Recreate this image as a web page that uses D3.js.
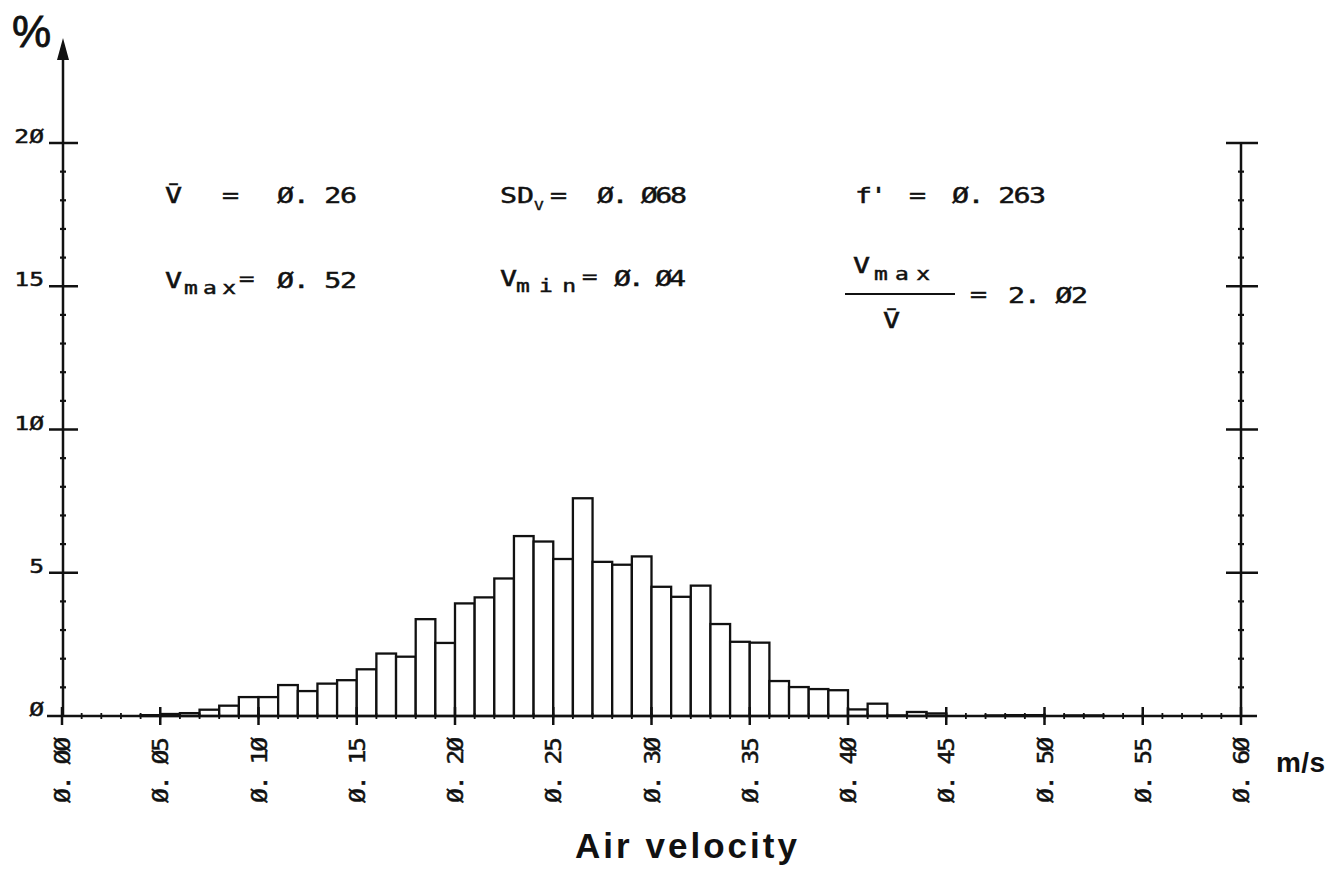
<!DOCTYPE html>
<html><head><meta charset="utf-8">
<script src="https://cdn.jsdelivr.net/npm/d3@7"></script>
<style>html,body{margin:0;padding:0;background:#fff;} svg{display:block;}</style>
</head><body>
<svg id="c" width="1334" height="875"></svg>
<script>
// ---------- data ----------
const binStart = [0.04,0.05,0.06,0.07,0.08,0.09,0.10,0.11,0.12,0.13,0.14,0.15,0.16,0.17,0.18,0.19,
  0.20,0.21,0.22,0.23,0.24,0.25,0.26,0.27,0.28,0.29,0.30,0.31,0.32,0.33,0.34,0.35,0.36,0.37,0.38,0.39,
  0.40,0.41,0.42,0.43,0.44,0.45,0.46,0.47,0.48,0.49,0.50,0.51,0.52];
const percent = [0.03,0.07,0.10,0.22,0.36,0.66,0.66,1.08,0.87,1.13,1.25,1.63,2.18,2.07,3.38,2.55,
  3.93,4.14,4.80,6.28,6.09,5.48,7.60,5.38,5.28,5.57,4.51,4.16,4.55,3.21,2.59,2.56,1.22,1.01,0.94,0.90,
  0.23,0.43,0.02,0.14,0.09,0.00,0.00,0.02,0.03,0.03,0.00,0.02,0.02];
const binWidth = 0.01;
const xTickValues = [0.00,0.05,0.10,0.15,0.20,0.25,0.30,0.35,0.40,0.45,0.50,0.55,0.60];
const yTickValues = [0,5,10,15,20];
const statNames = ["V̄","SD","f'","V","V","V"];
const statSubs  = ["","V","","max","min","max"];
const statValues = [0.26,0.068,0.263,0.52,0.04,2.02];
const xTitle = "Air velocity";
const xUnit = "m/s";
const yUnit = "%";

// ---------- drawing ----------
const svg = d3.select("#c");
const ink = "#111";
const mono = "'DejaVu Sans Mono', monospace";
const sans = "'Liberation Sans', Arial, sans-serif";
const x = d3.scaleLinear().domain([0,0.6]).range([62,1241]);
const y = d3.scaleLinear().domain([0,20]).range([716,143]);
const plot = (s)=> s.replace(/0/g,"Ø");
const fmtVal = v => plot(String(v)).replace(".", ". ");
const fmtX = v => plot(d3.format(".2f")(v)).replace(".", ". ");

// bars
svg.append("g").selectAll("rect")
  .data(binStart.map((b,i)=>({b, p:percent[i]})).filter(d=>d.p>0))
  .join("rect")
  .attr("x", d=>x(d.b))
  .attr("width", d=>x(d.b+binWidth)-x(d.b))
  .attr("y", d=>y(d.p))
  .attr("height", d=>y(0)-y(d.p))
  .attr("fill","#fff").attr("stroke",ink).attr("stroke-width",2.3);

const g = svg.append("g").attr("stroke",ink).attr("stroke-width",2.5).attr("fill","none");
const x0 = x(0), x1 = x(0.6), yb = y(0);

// x axis line
g.append("line").attr("x1",x0-15).attr("x2",x1+16).attr("y1",yb).attr("y2",yb);
// x major ticks
g.selectAll(".xM").data(xTickValues).join("line")
  .attr("x1",d=>x(d)).attr("x2",d=>x(d)).attr("y1",yb-9).attr("y2",yb+9);
// x minor ticks
g.selectAll(".xm").data(d3.range(0,61).map(i=>i/100)).join("line")
  .attr("x1",d=>x(d)).attr("x2",d=>x(d)).attr("y1",yb-3).attr("y2",yb+3).attr("stroke-width",1.8);

// left axis with arrow
g.append("line").attr("x1",x0+1).attr("x2",x0+1).attr("y1",yb).attr("y2",52);
svg.append("path").attr("d",`M${x0+1},38 L${x0-5},60 L${x0+7},60 Z`).attr("fill",ink);
// left major ticks
g.selectAll(".yL").data(yTickValues.filter(v=>v>0)).join("line")
  .attr("x1",x0-13).attr("x2",x0+16).attr("y1",d=>y(d)).attr("y2",d=>y(d));
// left minor ticks
g.selectAll(".yl").data(d3.range(1,20).filter(v=>v%5)).join("line")
  .attr("x1",x0-2).attr("x2",x0+4).attr("y1",d=>y(d)).attr("y2",d=>y(d)).attr("stroke-width",2.2);

// right axis
g.append("line").attr("x1",x1).attr("x2",x1).attr("y1",yb).attr("y2",y(20));
g.selectAll(".yR").data(yTickValues.filter(v=>v>0)).join("line")
  .attr("x1",x1-15).attr("x2",x1+17).attr("y1",d=>y(d)).attr("y2",d=>y(d));
g.selectAll(".yr").data(d3.range(1,20).filter(v=>v%5)).join("line")
  .attr("x1",x1-3).attr("x2",x1+3).attr("y1",d=>y(d)).attr("y2",d=>y(d)).attr("stroke-width",2.2);

// text helper (plotter-like lettering: monospace stretched horizontally)
function txt(s, px, py, size, len, opts={}) {
  const sx = opts.sx ?? 1.35;
  const t = svg.append("text")
    .attr("transform",`translate(${px},${py}) scale(${sx},1)`)
    .attr("font-family", opts.family || mono).attr("font-size",size)
    .attr("font-weight", opts.weight || "normal").attr("fill",ink)
    .attr("stroke", ink).attr("stroke-width", opts.sw ?? 0.45)
    .text(s);
  if (len) t.attr("textLength",len/sx).attr("lengthAdjust","spacing");
  if (opts.anchor) t.attr("text-anchor",opts.anchor);
  return t;
}

// x tick labels (rotated, read bottom to top)
xTickValues.forEach(v=>{
  svg.append("text")
    .attr("transform",`translate(${x(v)+8},803) rotate(-90) scale(1.2,1)`)
    .attr("font-family",mono).attr("font-size",20.5).attr("fill",ink)
    .attr("stroke",ink).attr("stroke-width",0.45)
    .attr("textLength",66/1.2).attr("lengthAdjust","spacing")
    .text(fmtX(v));
});
// y tick labels
yTickValues.forEach(v=>{
  txt(plot(String(v)), 44, y(v), 19, null, {anchor:"end", sx:1.3});
});

// unit labels
txt(yUnit, 12, 47, 44, 35, {family:sans, sx:1, sw:0.8});
txt(xUnit, 1276, 772, 28, 49, {family:sans, weight:"bold", sx:1, sw:0});
txt(xTitle, 575, 858, 35, 222, {family:sans, weight:"bold", sx:1, sw:0});

// statistics annotations
// row 1
txt(statNames[0], 165, 203, 21);
txt("=", 222, 203, 21);
txt(fmtVal(statValues[0]), 277, 203, 21, 80);

txt(statNames[1], 500, 203, 21);
txt(statSubs[1], 534, 210, 12, null, {sw:0.3});
txt("=", 550, 203, 21);
txt(fmtVal(statValues[1]), 597, 203, 21, 90);

txt(statNames[2], 855, 203, 21, 32);
txt("=", 909, 203, 21);
txt(fmtVal(statValues[2]), 952, 203, 21, 94);

// row 2
txt(statNames[3], 165, 288, 21);
txt(statSubs[3], 184, 294, 17, 52);
txt("=", 239, 285, 19);
txt(fmtVal(statValues[3]), 277, 288, 21, 80);

txt(statNames[4], 500, 286, 21);
txt(statSubs[4], 516, 292, 17, 60);
txt("=", 582, 283, 19);
txt(fmtVal(statValues[4]), 614, 286, 21, 72);

// ratio
txt(statNames[5], 853, 273, 21);
txt(statSubs[5], 874, 280, 17, 56);
g.append("line").attr("x1",845).attr("x2",955).attr("y1",294).attr("y2",294).attr("stroke-width",2.2);
txt("V̄", 883, 328, 21);
txt("=", 970, 302, 21);
txt(fmtVal(statValues[5]), 1008, 303, 21, 80);
</script>
</body></html>
